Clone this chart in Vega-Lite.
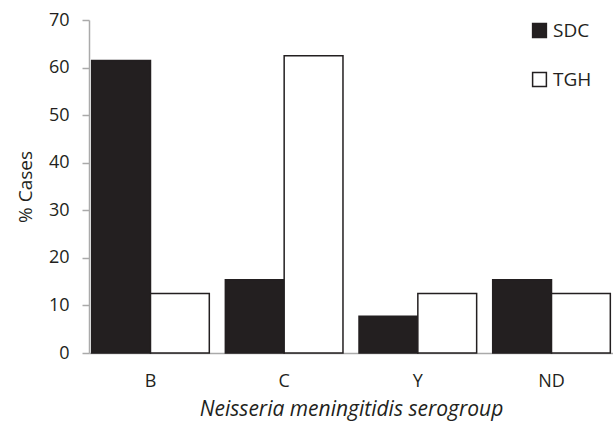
{
  "$schema": "https://vega.github.io/schema/vega-lite/v6.json",
  "autosize": {"type": "none"},
  "padding": {"left": 89, "top": 20, "right": 0, "bottom": 76},
  "width": 524,
  "height": 333,
  "background": "white",
  "config": {
    "font": "Open Sans",
    "view": {"stroke": null}
  },
  "data": {
    "values": [
      {"serogroup": "B", "site": "SDC", "pct": 61.5},
      {"serogroup": "B", "site": "TGH", "pct": 12.5},
      {"serogroup": "C", "site": "SDC", "pct": 15.4},
      {"serogroup": "C", "site": "TGH", "pct": 62.5},
      {"serogroup": "Y", "site": "SDC", "pct": 7.7},
      {"serogroup": "Y", "site": "TGH", "pct": 12.5},
      {"serogroup": "ND", "site": "SDC", "pct": 15.4},
      {"serogroup": "ND", "site": "TGH", "pct": 12.5}
    ]
  },
  "mark": {"type": "bar", "stroke": "#231f20", "strokeWidth": 1.5},
  "encoding": {
    "x": {
      "field": "serogroup",
      "type": "nominal",
      "sort": ["B", "C", "Y", "ND"],
      "scale": {"paddingInner": 0.12, "paddingOuter": 0.02},
      "axis": {
        "title": "Neisseria meningitidis serogroup",
        "titleFontStyle": "italic",
        "titleFontWeight": "normal",
        "titleFontSize": 21,
        "titleColor": "#231f20",
        "titlePadding": 8,
        "labelAngle": 0,
        "labelFontSize": 18,
        "labelColor": "#231f20",
        "labelPadding": 19,
        "ticks": false,
        "domainColor": "#aaaaaa",
        "domainWidth": 1.5
      }
    },
    "xOffset": {"field": "site", "type": "nominal"},
    "y": {
      "field": "pct",
      "type": "quantitative",
      "scale": {"domain": [0, 70]},
      "axis": {
        "title": "% Cases",
        "titleFontWeight": "normal",
        "titleFontSize": 19,
        "titleColor": "#231f20",
        "titlePadding": 13,
        "values": [0, 10, 20, 30, 40, 50, 60, 70],
        "labelFontSize": 18,
        "labelColor": "#231f20",
        "labelPadding": 13,
        "tickSize": 7,
        "tickColor": "#aaaaaa",
        "tickWidth": 1.5,
        "domainColor": "#aaaaaa",
        "domainWidth": 1.5,
        "grid": false
      }
    },
    "fill": {
      "field": "site",
      "type": "nominal",
      "scale": {"domain": ["SDC", "TGH"], "range": ["#231f20", "#ffffff"]},
      "legend": {
        "title": null,
        "orient": "none",
        "legendX": 441,
        "legendY": 1,
        "symbolType": "square",
        "symbolSize": 190,
        "symbolStrokeColor": "#231f20",
        "symbolStrokeWidth": 1.5,
        "labelFontSize": 19,
        "labelColor": "#231f20",
        "labelOffset": 4,
        "rowPadding": 28
      }
    }
  }
}
